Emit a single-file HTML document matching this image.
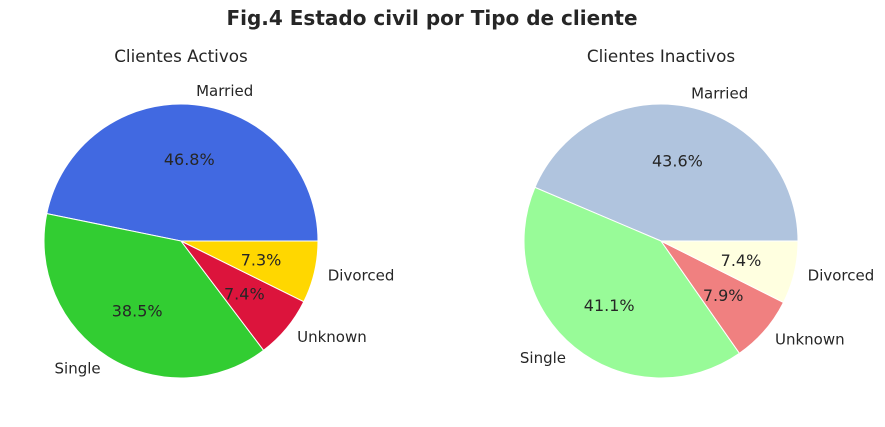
<!DOCTYPE html>
<html><head><meta charset="utf-8">
<style>
body{margin:0;background:#fff;}
svg text{font-family:"DejaVu Sans","Liberation Sans",sans-serif;fill:#262626;}
</style></head>
<body>
<svg id="chart" width="885" height="422" viewBox="0 0 885 422" xmlns="http://www.w3.org/2000/svg">
<rect width="885" height="422" fill="#fff"/>
<text x="432" y="25" text-anchor="middle" font-size="20" font-weight="bold">Fig.4 Estado civil por Tipo de cliente</text>
<text x="181" y="62" text-anchor="middle" font-size="16.8">Clientes Activos</text>
<text x="661" y="62" text-anchor="middle" font-size="16.8">Clientes Inactivos</text>
<g id="p1"></g>
<g id="p2"></g>
</svg>
<script>
const categories = ["Married","Single","Unknown","Divorced"];
const activeValues = [46.8,38.5,7.4,7.3];
const inactiveValues = [43.6,41.1,7.9,7.4];
const activeColors = ["#4169e1","#32cd32","#dc143c","#ffd700"];
const inactiveColors = ["#b0c4de","#98fb98","#f08080","#ffffe0"];
const NS="http://www.w3.org/2000/svg";
function drawPie(gid,cx,cy,r,vals,cols,prefix){
  const g=document.getElementById(gid);
  const total=vals.reduce((a,b)=>a+b,0);
  let a0=0;
  vals.forEach((v,i)=>{
    const a1=a0+v/total*2*Math.PI;
    const x0=cx+r*Math.cos(a0),y0=cy-r*Math.sin(a0);
    const x1=cx+r*Math.cos(a1),y1=cy-r*Math.sin(a1);
    const large=(a1-a0)>Math.PI?1:0;
    const p=document.createElementNS(NS,"path");
    p.setAttribute("d",`M${cx},${cy} L${x0},${y0} A${r},${r} 0 ${large} 0 ${x1},${y1} Z`);
    p.setAttribute("fill",cols[i]);p.setAttribute("stroke","#fff");p.setAttribute("stroke-width","1");
    
    
    g.appendChild(p);
    const m=(a0+a1)/2,c=Math.cos(m),s=Math.sin(m);
    const lt=document.createElementNS(NS,"text");
    lt.setAttribute("x",cx+1.1*r*c);lt.setAttribute("y",cy-1.1*r*s+5);
    lt.setAttribute("text-anchor",c>0?"start":"end");lt.setAttribute("font-size","15");
    lt.textContent=categories[i];
    
    
    g.appendChild(lt);
    const pt=document.createElementNS(NS,"text");
    pt.setAttribute("x",cx+0.6*r*c);pt.setAttribute("y",cy-0.6*r*s+6);
    pt.setAttribute("text-anchor","middle");pt.setAttribute("font-size","16");
    pt.textContent=v.toFixed(1)+"%";
    
    
    g.appendChild(pt);
    a0=a1;
  });
}
drawPie("p1",181,241,137,activeValues,activeColors,"active");
drawPie("p2",661,241,137,inactiveValues,inactiveColors,"inactive");
</script>
</body></html>
